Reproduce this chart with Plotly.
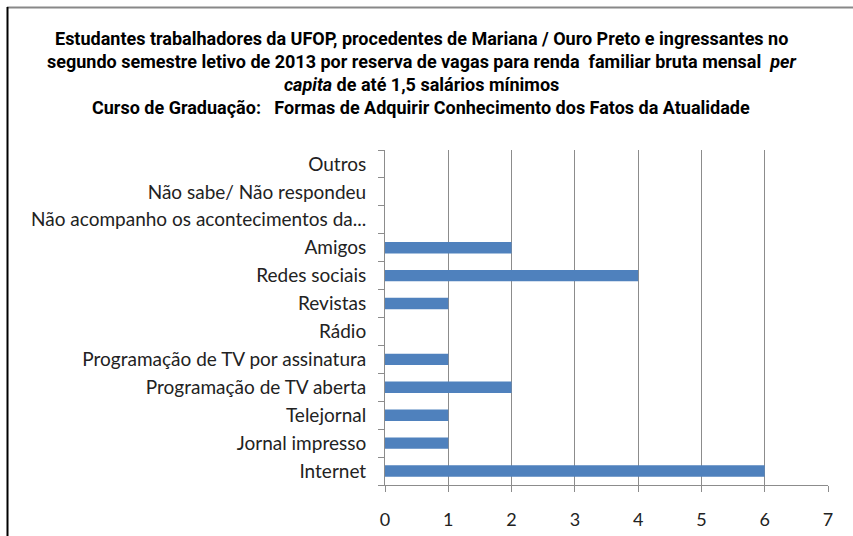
import plotly.graph_objects as go

categories = [
    "Internet",
    "Jornal impresso",
    "Telejornal",
    "Programação de TV aberta",
    "Programação de TV por assinatura",
    "Rádio",
    "Revistas",
    "Redes sociais",
    "Amigos",
    "Não acompanho os acontecimentos da...",
    "Não sabe/ Não respondeu",
    "Outros",
]
values = [6, 1, 1, 2, 1, 0, 1, 4, 2, 0, 0, 0]
x_ticks = [0, 1, 2, 3, 4, 5, 6, 7]

title_lines = [
    "<b>Estudantes trabalhadores da UFOP, procedentes de Mariana / Ouro Preto e ingressantes no</b>",
    "<b>segundo semestre letivo de 2013 por reserva de vagas para renda  familiar bruta mensal  <i>per</i></b>",
    "<b><i>capita</i> de até 1,5 salários mínimos</b>",
    "<b>Curso de Graduação:   Formas de Adquirir Conhecimento dos Fatos da Atualidade</b>",
]

W, H = 853, 536
L, R, T, B = 385, 25, 150, 51
pw = W - L - R
ph = H - T - B


def px_x(px):
    return (px - L) / pw


def px_y(py):
    return (H - B - py) / ph


fig = go.Figure(
    go.Bar(
        x=values,
        y=categories,
        orientation="h",
        marker=dict(color="#4F81BD", line=dict(width=0)),
        width=0.41,
    )
)

title_font = dict(family="Roboto, Liberation Sans, sans-serif", size=18, color="black")
annotations = []
for i, line in enumerate(title_lines):
    annotations.append(dict(
        xref="paper", yref="paper",
        x=px_x(421), y=px_y(38.5 + 23 * i),
        xanchor="center", yanchor="middle",
        text=line, showarrow=False, font=title_font,
    ))

fig.update_layout(
    width=W,
    height=H,
    autosize=False,
    margin=dict(l=L, r=R, t=T, b=B, autoexpand=False),
    paper_bgcolor="white",
    plot_bgcolor="white",
    showlegend=False,
    annotations=annotations,
    xaxis=dict(
        range=[0, 7],
        tickvals=x_ticks,
        automargin=False,
        showgrid=True,
        gridcolor="#8c8c8c",
        gridwidth=1,
        zeroline=False,
        showline=True,
        linecolor="#8c8c8c",
        ticks="outside",
        ticklen=6,
        tickcolor="#8c8c8c",
        ticklabelstandoff=12,
        tickfont=dict(family="Lato, Open Sans, sans-serif", size=18, color="#222"),
    ),
    yaxis=dict(
        type="category",
        categoryorder="array",
        categoryarray=categories,
        range=[-0.5, len(categories) - 0.5],
        automargin=False,
        showgrid=False,
        zeroline=False,
        showline=True,
        linecolor="#8c8c8c",
        ticks="outside",
        tickson="boundaries",
        ticklen=6,
        tickcolor="#8c8c8c",
        ticklabelstandoff=14,
        tickfont=dict(family="Lato, Open Sans, sans-serif", size=19, color="#222"),
    ),
    shapes=[
        dict(type="line", xref="paper", yref="paper",
             x0=px_x(7), x1=px_x(W),
             y0=px_y(7.5), y1=px_y(7.5),
             line=dict(color="#888888", width=2)),
        dict(type="line", xref="paper", yref="paper",
             x0=px_x(7.5), x1=px_x(7.5),
             y0=px_y(7), y1=px_y(H),
             line=dict(color="black", width=2)),
    ],
)

fig.write_html(
    "out.html",
    config={"displayModeBar": False},
    post_script="document.body.style.margin='0px';document.body.style.overflow='hidden';",
)
